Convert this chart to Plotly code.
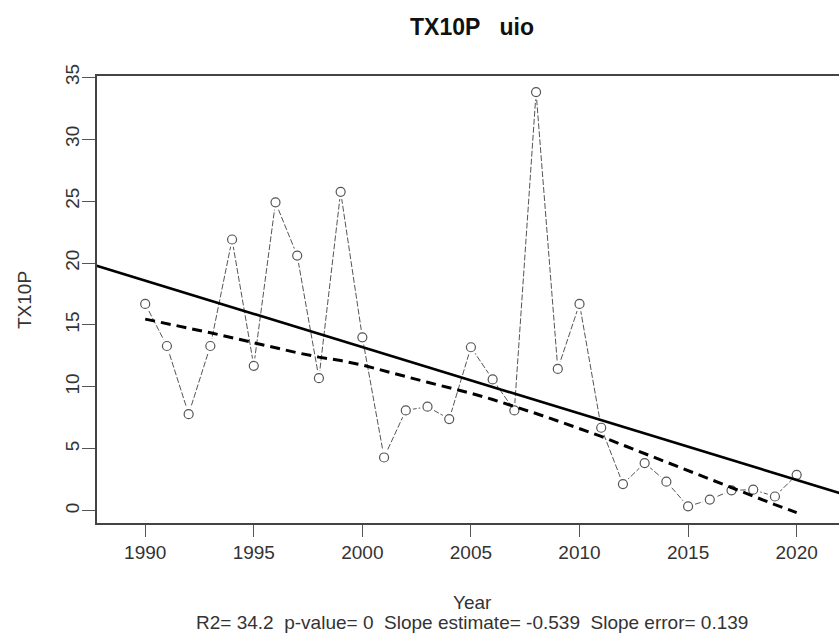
import numpy as np
import plotly.graph_objects as go

# TX10P index, station "uio"
years = list(range(1990, 2021))
tx10p = [16.7, 13.3, 7.8, 13.3, 21.9, 11.7, 24.9, 20.6, 10.7, 25.75,
         14.0, 4.3, 8.1, 8.4, 7.4, 13.2, 10.6, 8.1, 33.8, 11.45,
         16.7, 6.7, 2.15, 3.85, 2.35, 0.35, 0.9, 1.65, 1.7, 1.15, 2.9]

title_text = "TX10P\u00a0\u00a0\u00a0uio"
y_label = "TX10P"
x_label = "Year"
stats_text = ("R2= 34.2\u00a0\u00a0p-value= 0\u00a0\u00a0Slope estimate= -0.539"
              "\u00a0\u00a0Slope error= 0.139")

x = np.array(years, dtype=float)
y = np.array(tx10p, dtype=float)


def lowess(x, y, f=2 / 3, nsteps=3):
    """Port of R's clowess (delta smaller than the spacing of x)."""
    n = len(x)
    ns = max(2, min(n, int(f * n + 1e-7)))
    rw = np.ones(n)
    ys = np.zeros(n)
    rng = x[-1] - x[0]
    for it in range(nsteps + 1):
        nleft, nright = 0, ns - 1
        for i in range(n):
            while nright < n - 1 and (x[i] - x[nleft]) > (x[nright + 1] - x[i]):
                nleft += 1
                nright += 1
            h = max(x[i] - x[nleft], x[nright] - x[i])
            h9, h1 = 0.999 * h, 0.001 * h
            w = np.zeros(n)
            j = nleft
            while j < n:
                r = abs(x[j] - x[i])
                if r <= h9:
                    w[j] = 1.0 if r <= h1 else (1 - (r / h) ** 3) ** 3
                    if it > 0:
                        w[j] *= rw[j]
                elif x[j] > x[i]:
                    break
                j += 1
            a = w.sum()
            if a <= 0:
                ys[i] = y[i]
                continue
            w /= a
            if h > 0:
                a = np.sum(w * x)
                b = x[i] - a
                c = np.sum(w * (x - a) ** 2)
                if np.sqrt(c) > 0.001 * rng:
                    w = w * (b / c * (x - a) + 1.0)
            ys[i] = np.sum(w * y)
        res = y - ys
        if it == nsteps:
            break
        ar = np.sort(np.abs(res))
        m1 = n // 2
        cmad = 3.0 * (ar[m1] + ar[n - m1 - 1]) if n % 2 == 0 else 6.0 * ar[m1]
        sc = np.mean(np.abs(res))
        if cmad < 1e-7 * sc:
            break
        r = np.abs(res)
        rw = np.where(r <= 0.001 * cmad, 1.0,
                      np.where(r <= 0.999 * cmad, (1 - (r / cmad) ** 2) ** 2, 0.0))
    return ys


smooth = lowess(x, y)
slope, intercept = np.polyfit(x, y, 1)

x_range = [1987.78, 2021.95]
y_range = [-0.99, 35.1]
fit_x = np.array([x_range[0] - 1, x_range[1] + 1])
fit_y = intercept + slope * fit_x

font = "Liberation Sans, Arial, sans-serif"
grey = "#555555"

fig = go.Figure()

# series line (drawn first so the markers sit on top)
fig.add_trace(go.Scatter(x=years, y=tx10p, mode="lines",
                         line=dict(color=grey, width=1, dash="6px,2px"),
                         hoverinfo="skip", showlegend=False))
# white halo leaves a small gap between line and point, as in type="b"
fig.add_trace(go.Scatter(x=years, y=tx10p, mode="markers",
                         marker=dict(symbol="circle", size=15, color="white",
                                     line=dict(width=0)),
                         hoverinfo="skip", showlegend=False))
fig.add_trace(go.Scatter(x=years, y=tx10p, mode="markers",
                         marker=dict(symbol="circle", size=9, color="white",
                                     line=dict(color=grey, width=1.2)),
                         showlegend=False))
# least-squares trend
fig.add_trace(go.Scatter(x=fit_x, y=fit_y, mode="lines",
                         line=dict(color="black", width=2.6),
                         hoverinfo="skip", showlegend=False))
# lowess smooth
fig.add_trace(go.Scatter(x=years, y=smooth, mode="lines",
                         line=dict(color="black", width=3, dash="10px,6px"),
                         hoverinfo="skip", showlegend=False))

L, R, T, B = 97, 0, 76, 114
W, H = 839, 637
plot_w = W - L - R
plot_h = H - T - B
cx = (472 - L) / plot_w


def py(pix):
    return (H - B - pix) / plot_h


fig.update_layout(
    width=W, height=H,
    margin=dict(l=L, r=R, t=T, b=B, pad=0),
    paper_bgcolor="white", plot_bgcolor="white",
    font=dict(family=font, size=19, color="#333333"),
    xaxis=dict(range=x_range, tickmode="array", tickvals=list(range(1990, 2021, 5)),
               ticks="outside", ticklen=12, tickwidth=1, tickcolor=grey,
               showline=True, linecolor="#444444", linewidth=1.5, mirror=True,
               showgrid=False, zeroline=False, ticklabelstandoff=-1),
    yaxis=dict(range=y_range, tickmode="array", tickvals=list(range(0, 36, 5)),
               ticks="outside", ticklen=13, tickwidth=1, tickcolor=grey,
               tickangle=-90,
               showline=True, linecolor="#444444", linewidth=1.5, mirror=False,
               showgrid=False, zeroline=False, ticklabelstandoff=-4),
    annotations=[
        dict(text="<b>" + title_text + "</b>", xref="paper", yref="paper",
             x=cx, y=py(27), xanchor="center", yanchor="middle", showarrow=False,
             font=dict(family=font, size=23, color="#111111")),
        dict(text=x_label, xref="paper", yref="paper", x=cx, y=py(602),
             xanchor="center", yanchor="middle", showarrow=False,
             font=dict(family=font, size=19, color="#333333")),
        dict(text=stats_text, xref="paper", yref="paper", x=cx, y=py(622),
             xanchor="center", yanchor="middle", showarrow=False,
             font=dict(family=font, size=19, color="#333333")),
        dict(text=y_label, xref="paper", yref="paper", x=(24 - L) / plot_w, y=py(300),
             xanchor="center", yanchor="middle", textangle=-90, showarrow=False,
             font=dict(family=font, size=19, color="#333333")),
    ],
)

fig.write_html("out.html")
